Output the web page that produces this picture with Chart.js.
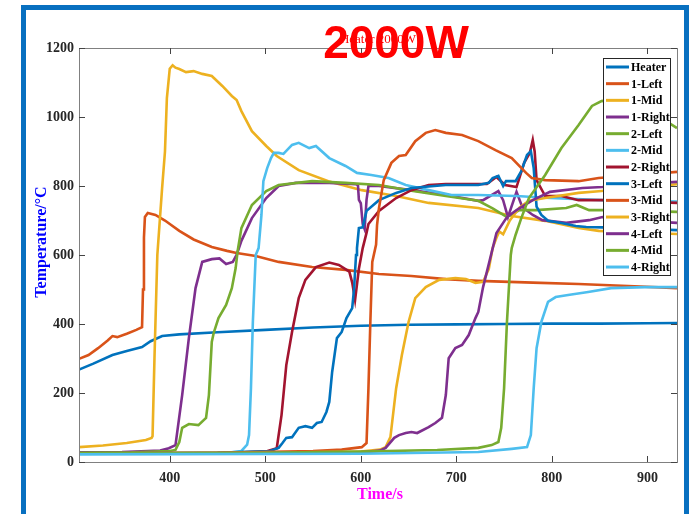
<!DOCTYPE html>
<html>
<head>
<meta charset="utf-8">
<script src="https://cdn.jsdelivr.net/npm/chart.js@4/dist/chart.umd.min.js"></script>
<style>
  body { margin: 0; background: #fff; overflow: hidden; }
  #wrap { position: relative; width: 689px; height: 514px; }
  #frame { position: absolute; left: 21px; top: 5px; width: 658px; height: 600px; border: 5px solid #0870c0; }
  #c { position: absolute; left: 0; top: 0; }
</style>
</head>
<body>
<div id="wrap">
  <div id="frame"></div>
  <canvas id="c" width="689" height="514"></canvas>
</div>
<script>
// [time s, temperature °C] pairs
const heater = [[305,268],[320,285],[340,310],[355,322],[371,333],[380,350],[392,365],[410,370],[450,376],[500,383],[550,390],[600,395],[650,398],[700,399],[750,400],[800,401],[850,401],[900,402],[931,403]];
const left1 = [[305,299],[315,310],[325,330],[335,352],[340,365],[345,362],[355,372],[365,383],[371,391],[372,500],[373,650],[374,710],[377,722],[385,716],[395,700],[410,670],[425,645],[444,623],[460,612],[470,606],[490,597],[514,580],[549,565],[584,557],[619,545],[653,539],[689,530],[723,525],[780,520],[828,516],[880,510],[931,504]];
const mid1 = [[305,43],[330,48],[355,55],[375,64],[381,70],[382,75],[384,300],[387,600],[392,794],[395,900],[397,1055],[400,1140],[403,1150],[406,1143],[410,1139],[417,1130],[425,1133],[434,1125],[444,1119],[455,1090],[465,1061],[470,1049],[475,1017],[486,959],[501,916],[512,887],[535,846],[566,814],[601,788],[637,771],[671,751],[723,736],[758,713],[793,699],[828,678],[849,670],[890,665],[931,661]];
const right1 = [[305,28],[350,29],[390,33],[399,40],[406,49],[413,194],[420,359],[427,504],[434,580],[444,588],[452,590],[459,574],[466,580],[470,600],[475,641],[486,707],[501,765],[514,800],[532,809],[567,809],[595,805],[597,803],[598,760],[600,750],[602,690],[604,675],[606,760],[608,800],[619,800],[653,788],[689,774],[723,757],[728,759],[744,785],[749,759],[754,710],[763,783],[769,739],[780,716],[790,701],[815,693],[839,701],[853,710],[890,700],[931,693]];
const left2 = [[305,27],[360,28],[400,32],[406,35],[410,58],[413,99],[420,110],[430,107],[438,128],[441,194],[444,348],[446,374],[451,417],[459,455],[465,504],[469,562],[471,610],[475,678],[486,745],[501,785],[514,803],[549,814],[584,809],[619,803],[653,786],[689,771],[723,757],[738,735],[753,710],[766,730],[784,730],[815,736],[826,745],[839,730],[853,730],[890,728],[931,725]];
const mid2 = [[305,25],[400,25],[460,27],[475,32],[481,50],[483,78],[485,214],[487,406],[490,600],[493,620],[496,716],[498,814],[502,852],[506,881],[509,896],[514,896],[519,893],[528,919],[535,925],[546,910],[553,916],[567,881],[584,858],[596,838],[611,832],[629,823],[647,803],[671,788],[695,774],[723,774],[763,771],[798,765],[853,759],[931,755]];
const right2 = [[305,25],[450,26],[500,30],[512,40],[517,136],[522,281],[528,377],[535,475],[542,528],[553,565],[567,578],[577,571],[588,552],[591,520],[594,470],[598,560],[602,620],[606,664],[608,690],[619,728],[637,765],[653,788],[671,803],[689,806],[723,806],[732,806],[742,826],[751,803],[763,797],[771,867],[777,896],[780,933],[782,900],[784,817],[793,771],[810,771],[828,759],[853,759],[890,755],[931,751]];
const left3 = [[305,25],[450,27],[505,32],[514,41],[518,55],[522,70],[528,72],[535,99],[542,104],[549,99],[554,113],[559,116],[564,145],[567,174],[570,261],[575,359],[580,377],[585,417],[591,446],[593,504],[595,600],[596,620],[598,678],[602,680],[606,728],[619,759],[637,780],[653,794],[689,803],[723,803],[734,809],[738,823],[744,829],[749,800],[752,814],[762,814],[768,843],[774,890],[778,901],[781,852],[784,740],[789,716],[796,699],[810,693],[825,684],[836,681],[853,680],[890,676],[931,672]];
const mid3 = [[305,25],[450,27],[550,32],[580,36],[601,43],[606,55],[608,214],[610,406],[612,580],[616,630],[617,687],[619,736],[624,817],[632,867],[640,887],[647,890],[657,930],[668,954],[678,962],[689,954],[706,948],[723,930],[741,904],[758,881],[773,838],[779,823],[793,817],[828,814],[849,823],[890,832],[931,841]];
const right3 = [[305,25],[500,27],[600,30],[620,36],[626,43],[631,72],[637,214],[643,310],[650,406],[657,475],[668,507],[682,528],[699,533],[710,530],[720,519],[728,522],[734,560],[738,620],[742,650],[745,668],[749,660],[756,700],[766,737],[776,757],[793,765],[828,780],[849,785],[890,795],[931,805]];
const left4 = [[305,25],[500,26],[600,28],[620,33],[626,41],[635,70],[640,78],[647,84],[653,87],[659,84],[671,101],[678,113],[685,128],[689,194],[692,301],[699,330],[706,339],[713,368],[720,417],[723,435],[728,507],[735,585],[742,664],[753,710],[763,730],[780,759],[798,783],[832,794],[853,797],[890,805],[931,812]];
const mid4 = [[305,25],[500,27],[600,30],[680,35],[723,41],[737,49],[744,58],[747,99],[750,214],[753,406],[757,600],[758,620],[762,658],[768,707],[776,765],[793,832],[810,910],[828,977],[842,1032],[852,1046],[865,1050],[890,1035],[910,1005],[931,968]];
const right4 = [[305,22],[600,24],[723,29],[758,38],[774,43],[778,78],[781,214],[784,330],[789,406],[796,464],[804,478],[817,484],[838,493],[862,504],[898,507],[931,507]];

const seriesNames = ["Heater","1-Left","1-Mid","1-Right","2-Left","2-Mid","2-Right","3-Left","3-Mid","3-Right","4-Left","4-Mid","4-Right"];
const seriesData = [heater,left1,mid1,right1,left2,mid2,right2,left3,mid3,right3,left4,mid4,right4];
const colors = ["#0072BD","#D95319","#EDB120","#7E2F8E","#77AC30","#4DBEEE","#A2142F","#0072BD","#D95319","#EDB120","#7E2F8E","#77AC30","#4DBEEE"];
const xTicks = [400,500,600,700,800,900];
const yTicks = [0,200,400,600,800,1000,1200];

const serif = "'Liberation Serif', 'Times New Roman', serif";

// box, inward ticks, legend, titles (MATLAB look)
const decor = {
  id: 'decor',
  afterDatasetsDraw(chart) {
    const ctx = chart.ctx, ca = chart.chartArea;
    const xs = chart.scales.x, ys = chart.scales.y;
    ctx.save();
    ctx.strokeStyle = '#808080';
    ctx.lineWidth = 1;
    ctx.strokeRect(Math.round(ca.left) + 0.5, Math.round(ca.top) + 0.5, Math.round(ca.right - ca.left), Math.round(ca.bottom - ca.top));
    ctx.strokeStyle = '#444';
    ctx.beginPath();
    xTicks.forEach(v => {
      const px = Math.round(xs.getPixelForValue(v)) + 0.5;
      ctx.moveTo(px, ca.bottom); ctx.lineTo(px, ca.bottom - 6);
      ctx.moveTo(px, ca.top); ctx.lineTo(px, ca.top + 6);
    });
    yTicks.forEach(v => {
      const py = Math.round(ys.getPixelForValue(v)) + 0.5;
      ctx.moveTo(ca.left, py); ctx.lineTo(ca.left + 6, py);
      ctx.moveTo(ca.right, py); ctx.lineTo(ca.right - 6, py);
    });
    ctx.stroke();

    // legend
    const lx = Math.round(ca.right) - 74, ly = Math.round(ca.top) + 10, step = 16.67;
    ctx.fillStyle = '#fff';
    ctx.fillRect(lx, ly, 67, 217);
    ctx.strokeStyle = '#262626';
    ctx.strokeRect(lx + 0.5, ly + 0.5, 67, 217);
    ctx.font = 'bold 12px ' + serif;
    ctx.textBaseline = 'middle';
    ctx.textAlign = 'left';
    chart.data.datasets.forEach((ds, i) => {
      const y = ly + 9 + i * step;
      ctx.strokeStyle = ds.borderColor;
      ctx.lineWidth = 3;
      ctx.beginPath(); ctx.moveTo(lx + 3, y); ctx.lineTo(lx + 26, y); ctx.stroke();
      ctx.fillStyle = '#000';
      ctx.fillText(ds.label, lx + 28, y + 1);
    });

    // axis titles
    ctx.fillStyle = '#ff00ff';
    ctx.font = 'bold 16px ' + serif;
    ctx.textAlign = 'center';
    ctx.fillText('Time/s', 380, 495);
    ctx.save();
    ctx.translate(42, 242);
    ctx.rotate(-Math.PI / 2);
    ctx.fillStyle = '#0000ff';
    ctx.fillText('Temperature/°C', 0, 0);
    ctx.restore();

    // titles
    ctx.fillStyle = '#ff0000';
    ctx.font = '13px ' + serif;
    ctx.textBaseline = 'alphabetic';
    ctx.fillText('Heater 2000W', 378, 43);
    ctx.font = "bold 46px 'Liberation Sans', Arial, sans-serif";
    ctx.fillText('2000W', 396, 58);
    ctx.restore();
  }
};

new Chart(document.getElementById('c'), {
  type: 'line',
  data: {
    datasets: seriesData.map((d, i) => ({
      label: seriesNames[i],
      data: d.map(p => ({ x: p[0], y: p[1] })),
      borderColor: colors[i],
      backgroundColor: colors[i],
      borderWidth: 2.6,
      pointRadius: 0,
      tension: 0,
      fill: false,
      order: seriesData.length - i
    }))
  },
  options: {
    responsive: false,
    animation: false,
    devicePixelRatio: 1,
    layout: { padding: { left: 0, top: 48, right: 12, bottom: 0 } },
    scales: {
      x: {
        type: 'linear', min: 305, max: 931,
        afterBuildTicks: s => { s.ticks = xTicks.map(v => ({ value: v })); },
        afterFit: s => { s.height = 52; },
        grid: { display: false, drawTicks: false },
        border: { display: false },
        ticks: { padding: 8, color: '#262626', callback: v => String(v), font: { family: serif, size: 14, weight: 'bold' } }
      },
      y: {
        type: 'linear', min: 0, max: 1200,
        afterBuildTicks: s => { s.ticks = yTicks.map(v => ({ value: v })); },
        afterFit: s => { s.width = 79; },
        grid: { display: false, drawTicks: false },
        border: { display: false },
        ticks: { padding: 5, color: '#262626', callback: v => String(v), font: { family: serif, size: 14, weight: 'bold' } }
      }
    },
    plugins: {
      legend: { display: false },
      title: { display: false },
      tooltip: { enabled: false }
    }
  },
  plugins: [decor]
});
</script>
</body>
</html>
